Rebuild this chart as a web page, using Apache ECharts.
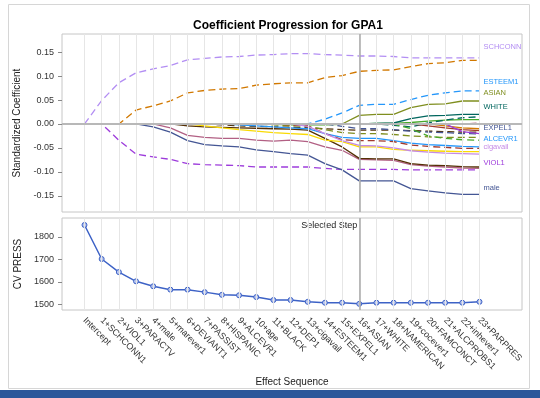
<!DOCTYPE html>
<html>
<head>
<meta charset="utf-8">
<script src="https://cdn.jsdelivr.net/npm/echarts@6/dist/echarts.min.js"></script>
<style>
  html, body { margin: 0; padding: 0; background: #fff; }
  #chart { width: 540px; height: 398px; }
</style>
</head>
<body>
<div id="chart"></div>
<script>
// steps of the selection, intercept first
const steps = ['Intercept', '1+SCHCONN1', '2+VIOL1', '3+PARACTV', '4+male', '5+marever1',
  '6+DEVIANT1', '7+PASSIST', '8+HISPANIC', '9+ALCEVR1', '10+age', '11+BLACK', '12+DEP1',
  '13+cigavail', '14+ESTEEM1', '15+EXPEL1', '16+ASIAN', '17+WHITE', '18+NAMERICAN',
  '19+cocever1', '20+FAMCONCT', '21+ALCPROBS1', '22+inhever1', '23+PARPRES']
const selectedStep = 16

const cvPress = [1852, 1701, 1643, 1602, 1580, 1565, 1565, 1554, 1542, 1540, 1532, 1519,
  1519, 1511, 1507, 1507, 1502, 1507, 1507, 1507, 1507, 1507, 1507, 1511]

const coefTicks = [-0.15, -0.1, -0.05, 0, 0.05, 0.1, 0.15]
const pressTicks = [1500, 1600, 1700, 1800]

// standardized coefficient of each effect at each step
const SCHCONN1 = [0, 0.049, 0.086, 0.107, 0.115, 0.122, 0.134, 0.137, 0.140, 0.141, 0.144, 0.145, 0.147, 0.147, 0.145, 0.144, 0.142, 0.142, 0.141, 0.138, 0.138, 0.138, 0.138, 0.138]
const VIOL1 = [0, 0, -0.034, -0.063, -0.069, -0.074, -0.083, -0.085, -0.086, -0.087, -0.090, -0.090, -0.090, -0.090, -0.093, -0.095, -0.095, -0.095, -0.095, -0.096, -0.096, -0.096, -0.096, -0.096]
const PARACTV = [0, 0, 0, 0.029, 0.038, 0.048, 0.065, 0.070, 0.073, 0.074, 0.081, 0.084, 0.086, 0.086, 0.097, 0.101, 0.110, 0.112, 0.113, 0.120, 0.126, 0.128, 0.133, 0.133]
const male = [0, 0, 0, 0, -0.006, -0.017, -0.035, -0.043, -0.046, -0.048, -0.054, -0.058, -0.062, -0.065, -0.083, -0.096, -0.119, -0.119, -0.119, -0.135, -0.140, -0.144, -0.147, -0.147]
const marever1 = [0, 0, 0, 0, 0, -0.008, -0.024, -0.028, -0.030, -0.030, -0.034, -0.036, -0.034, -0.037, -0.048, -0.055, -0.074, -0.075, -0.076, -0.085, -0.088, -0.090, -0.092, -0.093]
const DEVIANT1 = [0, 0, 0, 0, 0, 0, -0.004, -0.006, -0.007, -0.008, -0.009, -0.010, -0.011, -0.013, -0.030, -0.048, -0.072, -0.073, -0.073, -0.083, -0.086, -0.087, -0.089, -0.090]
const PASSIST = [0, 0, 0, 0, 0, 0, 0, -0.004, -0.008, -0.012, -0.015, -0.018, -0.020, -0.022, -0.034, -0.037, -0.048, -0.048, -0.053, -0.055, -0.056, -0.057, -0.058, -0.058]
const HISPANIC = [0, 0, 0, 0, 0, 0, 0, 0, -0.002, -0.004, -0.005, -0.006, -0.007, -0.008, -0.010, -0.012, -0.013, -0.013, -0.013, -0.014, -0.015, -0.016, -0.017, -0.017]
const ALCEVR1 = [0, 0, 0, 0, 0, 0, 0, 0, 0, -0.002, -0.004, -0.006, -0.008, -0.010, -0.020, -0.028, -0.030, -0.030, -0.035, -0.040, -0.043, -0.045, -0.047, -0.048]
const age = [0, 0, 0, 0, 0, 0, 0, 0, 0, 0, -0.001, -0.001, -0.002, -0.002, -0.002, -0.001, 0, 0.001, 0.001, 0.003, 0.006, 0.008, 0.009, 0.009]
const BLACK = [0, 0, 0, 0, 0, 0, 0, 0, 0, 0, 0, -0.002, -0.004, -0.005, -0.012, -0.018, -0.020, -0.020, -0.022, -0.025, -0.027, -0.028, -0.028, -0.028]
const DEP1 = [0, 0, 0, 0, 0, 0, 0, 0, 0, 0, 0, 0, -0.002, -0.004, -0.020, -0.033, -0.035, -0.035, -0.037, -0.044, -0.047, -0.049, -0.051, -0.051]
const cigavail = [0, 0, 0, 0, 0, 0, 0, 0, 0, 0, 0, 0, 0, -0.005, -0.020, -0.035, -0.045, -0.046, -0.050, -0.056, -0.059, -0.061, -0.062, -0.063]
const ESTEEM1 = [0, 0, 0, 0, 0, 0, 0, 0, 0, 0, 0, 0, 0, 0, 0.010, 0.023, 0.039, 0.041, 0.041, 0.051, 0.060, 0.065, 0.069, 0.069]
const EXPEL1 = [0, 0, 0, 0, 0, 0, 0, 0, 0, 0, 0, 0, 0, 0, 0, -0.005, -0.010, -0.010, -0.012, -0.015, -0.017, -0.018, -0.020, -0.021]
const ASIAN = [0, 0, 0, 0, 0, 0, 0, 0, 0, 0, 0, 0, 0, 0, 0, 0, 0.018, 0.020, 0.020, 0.034, 0.041, 0.042, 0.048, 0.048]
const WHITE = [0, 0, 0, 0, 0, 0, 0, 0, 0, 0, 0, 0, 0, 0, 0, 0, 0, 0.001, 0.002, 0.011, 0.017, 0.018, 0.020, 0.020]
const NAMERICAN = [0, 0, 0, 0, 0, 0, 0, 0, 0, 0, 0, 0, 0, 0, 0, 0, 0, 0, -0.003, -0.006, 0.002, 0.008, 0.013, 0.015]
const cocever1 = [0, 0, 0, 0, 0, 0, 0, 0, 0, 0, 0, 0, 0, 0, 0, 0, 0, 0, 0, -0.010, -0.025, -0.030, -0.033, -0.034]
const FAMCONCT = [0, 0, 0, 0, 0, 0, 0, 0, 0, 0, 0, 0, 0, 0, 0, 0, 0, 0, 0, 0, -0.004, -0.008, -0.012, -0.014]
const ALCPROBS1 = [0, 0, 0, 0, 0, 0, 0, 0, 0, 0, 0, 0, 0, 0, 0, 0, 0, 0, 0, 0, 0, -0.004, -0.008, -0.010]
const inhever1 = [0, 0, 0, 0, 0, 0, 0, 0, 0, 0, 0, 0, 0, 0, 0, 0, 0, 0, 0, 0, 0, 0, -0.016, -0.020]
const PARPRES = [0, 0, 0, 0, 0, 0, 0, 0, 0, 0, 0, 0, 0, 0, 0, 0, 0, 0, 0, 0, 0, 0, 0, 0.002]

// name, values, colour, dashed
const effects = [
  ['SCHCONN1', SCHCONN1, '#b38ef3', true],
  ['VIOL1', VIOL1, '#9d3cdb', true],
  ['PARACTV', PARACTV, '#d17800', true],
  ['male', male, '#445694', false],
  ['marever1', marever1, '#b26084', false],
  ['DEVIANT1', DEVIANT1, '#543005', false],
  ['PASSIST', PASSIST, '#f9da04', false],
  ['HISPANIC', HISPANIC, '#543005', true],
  ['ALCEVR1', ALCEVR1, '#2597fa', false],
  ['age', age, '#47a82a', false],
  ['BLACK', BLACK, '#7f8e1f', true],
  ['DEP1', DEP1, '#a23a2e', true],
  ['cigavail', cigavail, '#c58ae6', false],
  ['ESTEEM1', ESTEEM1, '#2597fa', true],
  ['EXPEL1', EXPEL1, '#445694', true],
  ['ASIAN', ASIAN, '#7f8e1f', false],
  ['WHITE', WHITE, '#01665e', false],
  ['NAMERICAN', NAMERICAN, '#01665e', true],
  ['cocever1', cocever1, '#47a82a', true],
  ['FAMCONCT', FAMCONCT, '#a23a2e', false],
  ['ALCPROBS1', ALCPROBS1, '#d17800', false],
  ['inhever1', inhever1, '#9d3cdb', false],
  ['PARPRES', PARPRES, '#b26084', true]
]

// labels at the right of the coefficient panel (name, height in coefficient units, colour)
const endLabels = [
  ['SCHCONN1', 0.160, '#b38ef3'],
  ['ESTEEM1', 0.087, '#2597fa'],
  ['ASIAN', 0.064, '#7f8e1f'],
  ['WHITE', 0.035, '#01665e'],
  ['EXPEL1', -0.009, '#445694'],
  ['ALCEVR1', -0.032, '#2597fa'],
  ['cigavail', -0.049, '#c58ae6'],
  ['VIOL1', -0.082, '#9d3cdb'],
  ['male', -0.134, '#445694']
]

const font = '"Liberation Sans", Arial, sans-serif'
const stepIdx = steps.map((s, i) => i)
const xMin = -1.31
const xMax = 25.475

const chart = echarts.init(document.getElementById('chart'))

const vLines = stepIdx.map(i => ({ xAxis: i, lineStyle: { color: '#e6e6e6', width: 1, type: 'solid' } }))
const selLine = { xAxis: selectedStep, lineStyle: { color: '#a9a9a9', width: 1.5, type: 'solid' } }

const bgSeries = (idx, extra) => ({
  type: 'line',
  xAxisIndex: idx,
  yAxisIndex: idx,
  data: [[0, idx === 0 ? 0 : cvPress[0]]],
  symbol: 'none',
  lineStyle: { opacity: 0 },
  silent: true,
  z: 1,
  animation: false,
  markLine: {
    silent: true,
    symbol: 'none',
    label: { show: false },
    animation: false,
    data: vLines.concat(extra)
  }
})

const coefSeries = effects.map(([name, vals, color, dashed]) => ({
  name: name,
  type: 'line',
  xAxisIndex: 0,
  yAxisIndex: 0,
  data: vals.map((v, i) => [i, v]),
  symbol: 'none',
  z: 3,
  lineStyle: { color: color, width: 1.3, type: dashed ? [7, 4] : 'solid' },
  animation: false
}))

const option = {
  backgroundColor: '#fff',
  title: {
    text: 'Coefficient Progression for GPA1',
    left: 283,
    textAlign: 'center',
    top: 15,
    textStyle: { fontSize: 12, fontWeight: 'bold', color: '#000', fontFamily: font }
  },
  grid: [
    { left: 62, top: 34, width: 460, height: 178, show: true, borderColor: '#c6c6c6', borderWidth: 1, backgroundColor: '#fff' },
    { left: 62, top: 218, width: 460, height: 92, show: true, borderColor: '#c6c6c6', borderWidth: 1, backgroundColor: '#fff' }
  ],
  xAxis: [
    {
      type: 'value', gridIndex: 0, min: xMin, max: xMax,
      axisLine: { show: false, onZero: false }, axisTick: { show: false }, axisLabel: { show: false }, splitLine: { show: false }
    },
    {
      type: 'value', gridIndex: 1, min: xMin, max: xMax,
      axisLine: { show: false, onZero: false }, axisTick: { show: false }, splitLine: { show: false },
      axisLabel: {
        customValues: stepIdx,
        formatter: v => steps[Math.round(v)],
        rotate: -45,
        fontSize: 9,
        color: '#333',
        margin: 9,
        fontFamily: font
      },
      name: 'Effect Sequence',
      nameLocation: 'middle',
      nameGap: 67,
      nameTextStyle: { fontSize: 10, color: '#222', fontFamily: font }
    }
  ],
  yAxis: [
    {
      type: 'value', gridIndex: 0, min: -0.184, max: 0.188,
      axisLine: { show: false, onZero: false },
      axisTick: { show: false },
      axisLabel: { customValues: coefTicks, formatter: v => v.toFixed(2), fontSize: 9, color: '#333', margin: 8, fontFamily: font },
      splitLine: { show: false },
      name: 'Standardized Coefficient',
      nameLocation: 'middle',
      nameGap: 38,
      nameTextStyle: { fontSize: 10, color: '#222', fontFamily: font }
    },
    {
      type: 'value', gridIndex: 1, min: 1474.7, max: 1883,
      axisLine: { show: false, onZero: false },
      axisTick: { show: false },
      axisLabel: { customValues: pressTicks, formatter: v => String(v), fontSize: 9, color: '#333', margin: 8, fontFamily: font },
      splitLine: { show: false },
      name: 'CV PRESS',
      nameLocation: 'middle',
      nameGap: 36,
      nameTextStyle: { fontSize: 10, color: '#222', fontFamily: font }
    }
  ],
  series: [
    bgSeries(0, [{ yAxis: 0, lineStyle: { color: '#b8b8b8', width: 2, type: 'solid' } }, selLine]),
    bgSeries(1, [selLine])
  ].concat(coefSeries, [{
    name: 'CV PRESS',
    type: 'line',
    xAxisIndex: 1,
    yAxisIndex: 1,
    data: cvPress.map((v, i) => [i, v]),
    symbol: 'circle',
    symbolSize: 5,
    z: 3,
    itemStyle: { color: '#b9c6ee', borderColor: '#3d62c6', borderWidth: 1 },
    lineStyle: { color: '#3d62c6', width: 1.5 },
    animation: false
  }])
}

chart.setOption(option)

// outer frame, bottom bar, y ticks, right-hand labels and selected step note
const graphics = [
  { type: 'rect', shape: { x: 8.5, y: 4.5, width: 521, height: 384 }, style: { fill: null, stroke: '#d6d6d6', lineWidth: 1 }, z: -10, silent: true },
  { type: 'rect', shape: { x: 0, y: 390, width: 540, height: 8 }, style: { fill: '#2b579a' }, silent: true }
]
const addTicks = (gridIndex, ticks) => ticks.forEach(t => {
  const p = chart.convertToPixel({ gridIndex: gridIndex }, [xMin, t])
  const y = Math.round(p[1]) + 0.5
  graphics.push({
    type: 'line', silent: true,
    shape: { x1: p[0] - 4, y1: y, x2: p[0], y2: y },
    style: { stroke: '#888', lineWidth: 1 }
  })
})
addTicks(0, coefTicks)
addTicks(1, pressTicks)
endLabels.forEach(([name, v, color]) => {
  const p = chart.convertToPixel({ gridIndex: 0 }, [23, v])
  graphics.push({
    type: 'text', x: p[0] + 4, y: p[1], silent: true,
    style: { text: name, fill: color, font: '7.5px ' + font, textVerticalAlign: 'middle', width: 522 - p[0] - 2, overflow: 'truncate', ellipsis: '' }
  })
})
const sp = chart.convertToPixel({ gridIndex: 1 }, [selectedStep, 1883])
graphics.push({
  type: 'text', x: sp[0] - 2, y: sp[1] + 8, silent: true,
  style: { text: 'Selected Step', fill: '#222', font: '9px ' + font, textAlign: 'right', textVerticalAlign: 'middle' }
})
chart.setOption({ graphic: graphics })
</script>
</body>
</html>
